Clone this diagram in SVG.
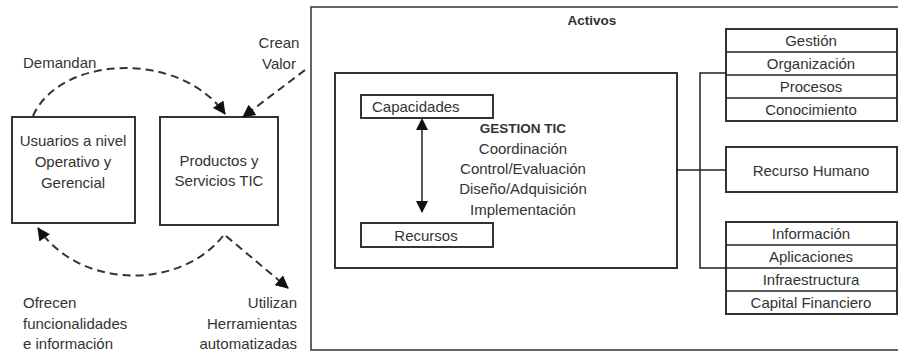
<svg xmlns="http://www.w3.org/2000/svg" width="908" height="352" viewBox="0 0 908 352">
<style>
text{font-family:"Liberation Sans",Arial,sans-serif;font-size:15px;fill:#333;dominant-baseline:central}
.m{text-anchor:middle}.e{text-anchor:end}
.b{font-weight:bold;font-size:13.5px}
.box{fill:#fff;stroke:#333;stroke-width:2}
.thin{fill:none;stroke:#333;stroke-width:1.5}
.dash{fill:none;stroke:#333;stroke-width:2;stroke-dasharray:8 5}
.ln{fill:none;stroke:#222;stroke-width:1.5}
</style>
<defs>
<marker id="ah" viewBox="0 0 10 10" refX="9" refY="5" markerWidth="8" markerHeight="8" orient="auto" markerUnits="userSpaceOnUse" overflow="visible"><path d="M0,0 L10,5 L0,10 z" fill="#111" transform="scale(1.3) translate(-2,-1.15)"/></marker>
<marker id="as" viewBox="0 0 12 12" refX="1" refY="6" markerWidth="12" markerHeight="12" orient="auto-start-reverse" markerUnits="userSpaceOnUse"><path d="M0,0 L12,6 L0,12 z" fill="#111"/></marker>
<marker id="ae" viewBox="0 0 12 12" refX="11" refY="6" markerWidth="12" markerHeight="12" orient="auto" markerUnits="userSpaceOnUse"><path d="M0,0 L12,6 L0,12 z" fill="#111"/></marker>
<marker id="ad" viewBox="0 0 13 13" refX="12" refY="6.5" markerWidth="13" markerHeight="13" orient="auto" markerUnits="userSpaceOnUse"><path d="M0,0 L13,6.5 L0,13 z" fill="#111"/></marker>
</defs>
<g id="activos">
<path class="thin" d="M898,7 H311 V350 H898"/>
<text class="m b" x="592" y="20">Activos</text>
</g>
<g id="gestion">
<rect class="box" x="335" y="73" width="342" height="195"/>
<text class="m b" x="523" y="128">GESTION TIC</text>
<text class="m" x="523" y="148">Coordinación</text>
<text class="m" x="523" y="168">Control/Evaluación</text>
<text class="m" x="523" y="188">Diseño/Adquisición</text>
<text class="m" x="523" y="209">Implementación</text>
</g>
<g id="capacidades">
<rect class="box" x="361" y="95" width="132" height="23"/>
<text x="372" y="106.5">Capacidades</text>
</g>
<g id="recursos">
<rect class="box" x="361" y="223" width="132" height="24"/>
<text class="m" x="426" y="235">Recursos</text>
</g>
<g id="usuarios">
<rect class="box" x="12" y="117" width="123" height="106"/>
<text class="m" x="73" y="140">Usuarios a nivel</text>
<text class="m" x="73" y="161">Operativo y</text>
<text class="m" x="73" y="182">Gerencial</text>
</g>
<g id="productos">
<rect class="box" x="160" y="117" width="118" height="108"/>
<text class="m" x="219" y="160">Productos y</text>
<text class="m" x="219" y="180">Servicios TIC</text>
</g>
<g id="stack1">
<rect class="box" x="726" y="29" width="171" height="92"/>
<path class="ln" d="M726,52 H897 M726,75 H897 M726,98 H897"/>
<text class="m" x="811" y="40.5">Gestión</text>
<text class="m" x="811" y="63.5">Organización</text>
<text class="m" x="811" y="86.5">Procesos</text>
<text class="m" x="811" y="109.5">Conocimiento</text>
</g>
<g id="rrhh">
<rect class="box" x="726" y="147" width="171" height="45"/>
<text class="m" x="811" y="170">Recurso Humano</text>
</g>
<g id="stack2">
<rect class="box" x="726" y="222" width="171" height="92"/>
<path class="ln" d="M726,245 H897 M726,268 H897 M726,291 H897"/>
<text class="m" x="811" y="233.5">Información</text>
<text class="m" x="811" y="256.5">Aplicaciones</text>
<text class="m" x="811" y="279.5">Infraestructura</text>
<text class="m" x="811" y="302.5">Capital Financiero</text>
</g>
<g id="labels">
<text x="23" y="62">Demandan</text>
<text class="m" x="279" y="42">Crean</text>
<text class="m" x="279" y="63">Valor</text>
<text x="23" y="302">Ofrecen</text>
<text x="23" y="323">funcionalidades</text>
<text x="23" y="343">e información</text>
<text class="e" x="297" y="302">Utilizan</text>
<text class="e" x="297" y="323">Herramientas</text>
<text class="e" x="297" y="343">automatizadas</text>
</g>
<g id="connectors">
<path class="dash" d="M33,116 C60,55 180,50 225,114" marker-end="url(#ad)"/>
<path class="dash" d="M305,70 L243,117" marker-end="url(#ad)"/>
<path class="dash" d="M223,236 C180,290 80,290 38,228" marker-end="url(#ad)"/>
<path class="dash" d="M226,236 L288,288" marker-end="url(#ad)"/>
<path class="ln" d="M422,129 V212" stroke-width="2" marker-start="url(#as)" marker-end="url(#ae)"/>
<path class="ln" d="M677,170 H726 M726,73 H700 V268 H726"/>
</g>
</svg>
